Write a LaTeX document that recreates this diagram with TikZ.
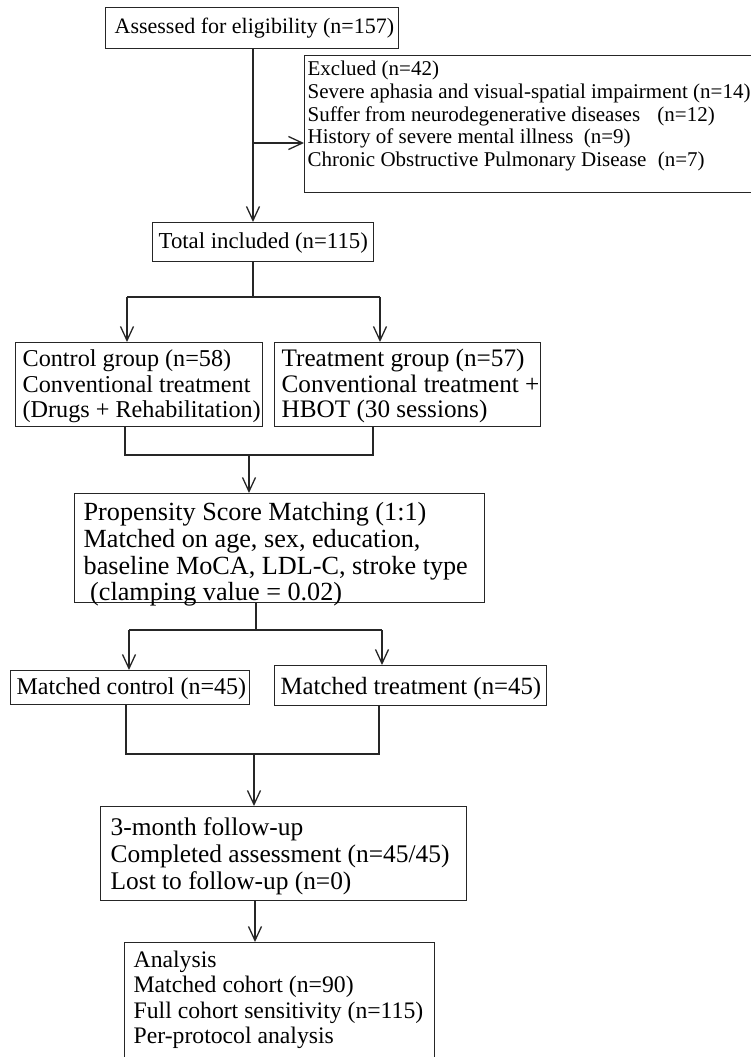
\documentclass[tikz,border=0pt]{standalone}
\usepackage{fontspec}
\setmainfont{Liberation Serif}
\usetikzlibrary{arrows.meta,calc}
\newcommand\celltext[2]{\makebox[#1][l]{\begin{tabular}[t]{@{}l@{}}#2\end{tabular}}}
\tikzset{
  box/.style={draw=black!85, line width=1.3pt, rectangle, anchor=north west, inner ysep=0pt},
  conn/.style={draw=black!85, line width=1.3pt},
  arr/.style={conn, -{Straight Barb[length=14pt,width=13pt]}},
}
\begin{document}
\begin{tikzpicture}[x=1pt,y=-1pt]
\useasboundingbox (0,0) rectangle (751,1057);
% boxes
\node[box, inner xsep=9pt, text height=26pt, text depth=15pt, font=\fontsize{22}{23}\selectfont] (elig) at (105,7)
  {\celltext{275pt}{Assessed for eligibility (n=157)}};
\node[box, inner xsep=3pt, text height=20pt, text depth=117pt, font=\fontsize{21}{22.7}\selectfont] (excl) at (304,55)
  {\celltext{454pt}{Exclued (n=42)\\
   Severe aphasia and visual-spatial impairment (n=14)\\
   Suffer from neurodegenerative diseases\hspace{12pt} (n=12)\\
   History of severe mental illness\hspace{5pt} (n=9)\\
   Chronic Obstructive Pulmonary Disease\hspace{6pt} (n=7)}};
\node[box, inner xsep=6pt, text height=26pt, text depth=13pt, font=\fontsize{22.8}{23.5}\selectfont] (total) at (152,222)
  {\celltext{209pt}{Total included (n=115)}};
\node[box, inner xsep=7pt, text height=24pt, text depth=60pt, font=\fontsize{24.2}{25.5}\selectfont] (ctrl) at (15,342)
  {\celltext{233pt}{Control group (n=58)\\ Conventional treatment\\ (Drugs + Rehabilitation)}};
\node[box, inner xsep=7pt, text height=24pt, text depth=60pt, font=\fontsize{25.2}{25.5}\selectfont] (trt) at (274,342)
  {\celltext{252pt}{Treatment group (n=57)\\ Conventional treatment +\\ HBOT (30 sessions)}};
\node[box, inner xsep=9pt, text height=27pt, text depth=82pt, font=\fontsize{26.2}{26.7}\selectfont] (psm) at (74,493)
  {\celltext{392pt}{Propensity Score Matching (1:1)\\ Matched on age, sex, education,\\ baseline MoCA, LDL-C, stroke type\\ \ (clamping value = 0.02)}};
\node[box, inner xsep=6pt, text height=23.5pt, text depth=10.5pt, font=\fontsize{24}{25}\selectfont] (mc) at (10,670)
  {\celltext{227pt}{Matched control (n=45)}};
\node[box, inner xsep=6pt, text height=28.5pt, text depth=11.5pt, font=\fontsize{24.8}{25.5}\selectfont] (mt) at (274,665)
  {\celltext{260pt}{Matched treatment (n=45)}};
\node[box, inner xsep=10pt, text height=29pt, text depth=65pt, font=\fontsize{25.4}{26.7}\selectfont] (fu) at (100,806)
  {\celltext{346pt}{3-month follow-up\\ Completed assessment (n=45/45)\\ Lost to follow-up (n=0)}};
\node[box, inner xsep=9pt, text height=25pt, text depth=120pt, font=\fontsize{23.7}{25.3}\selectfont] (an) at (124,942)
  {\celltext{292pt}{Analysis\\ Matched cohort (n=90)\\ Full cohort sensitivity (n=115)\\ Per-protocol analysis}};
% connectors
\coordinate (c1) at (253,143);
\draw[arr] (elig.south -| c1) -- (total.north -| c1);
\draw[arr] (c1) -- (c1 -| excl.west);
\coordinate (s1) at (253,297);
\coordinate (s1l) at (127,297);
\coordinate (s1r) at (380,297);
\draw[conn] (total.south -| s1) -- (s1);
\draw[conn] (s1l) -- (s1r);
\draw[arr] (s1l) -- (s1l |- ctrl.north);
\draw[arr] (s1r) -- (s1r |- trt.north);
\coordinate (m1l) at (125,455);
\coordinate (m1r) at (373,455);
\coordinate (m1c) at (249,455);
\draw[conn] (m1l |- ctrl.south) -- (m1l) -- (m1r) -- (m1r |- trt.south);
\draw[arr] (m1c) -- (m1c |- psm.north);
\coordinate (s2) at (256,630);
\coordinate (s2l) at (129,630);
\coordinate (s2r) at (382,630);
\draw[conn] (psm.south -| s2) -- (s2);
\draw[conn] (s2l) -- (s2r);
\draw[arr] (s2l) -- (s2l |- mc.north);
\draw[arr] (s2r) -- (s2r |- mt.north);
\coordinate (m2l) at (126,754);
\coordinate (m2r) at (379,754);
\coordinate (m2c) at (254,754);
\draw[conn] (m2l |- mc.south) -- (m2l) -- (m2r) -- (m2r |- mt.south);
\draw[arr] (m2c) -- (m2c |- fu.north);
\coordinate (f1) at (255,920);
\draw[arr] (fu.south -| f1) -- (an.north -| f1);
\end{tikzpicture}
\end{document}
